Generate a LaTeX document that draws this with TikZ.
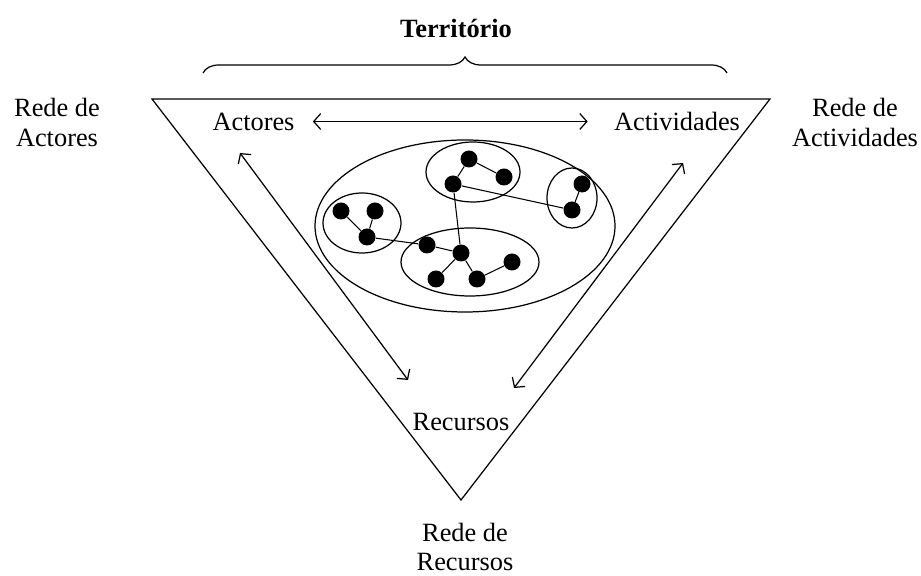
\documentclass[tikz,border=0pt]{standalone}
\usepackage{fontspec}
\setmainfont{Liberation Serif}
\usepackage{tikz}
\usetikzlibrary{arrows.meta, decorations.pathreplacing, shapes.geometric}
\tikzstyle{dot} = [circle, fill=black, inner sep=0pt, minimum size=0.34cm]
\tikzstyle{group} = [ellipse, draw, line width=0.7pt]
\tikzstyle{txt} = [align=center, inner sep=0pt]
\tikzstyle{line} = [draw, line width=0.7pt, {Straight Barb[length=4pt,width=9pt]}-{Straight Barb[length=4pt,width=9pt]}]
\tikzstyle{link} = [draw, line width=0.6pt]

\begin{document}
\begin{tikzpicture}[node distance = 2cm, font=\fontsize{15}{17}\selectfont]
    \useasboundingbox (0,0) rectangle (18.42,11.52);
    % Triangle and brace
    \coordinate (tl) at (3.04,9.54);
    \coordinate (tr) at (15.40,9.54);
    \coordinate (bot) at (9.22,1.52);
    \draw[line width=0.7pt] (tl) -- (tr) -- (bot) -- cycle;
    \coordinate (bracel) at (4.06,10.06);
    \coordinate (bracer) at (14.54,10.06);
    \draw[line width=0.7pt, decorate, decoration={brace, amplitude=0.32cm}] (bracel) -- (bracer);
    \node [font=\fontsize{15}{17}\selectfont\bfseries] (territorio) at (9.12,10.96) {Território};
    % Nodes
    \node [txt] (actores) at (5.07,9.09) {Actores};
    \node [txt, right of=actores, node distance=8.47cm] (actividades) {Actividades};
    \node [txt] (recursos) at (9.22,3.07) {Recursos};
    \node [txt] (redeact) at (1.14,9.07) {Rede de\\Actores};
    \node [txt] (redeactiv) at (17.1,9.07) {Rede de\\Actividades};
    \node [txt] (rederec) at (9.3,0.58) {Rede de\\Recursos};
    % Edges
    \path[line] ([xshift=0.36cm]actores.east) -- ([xshift=-0.52cm]actividades.west);
    \coordinate (al1) at (4.8,8.46);
    \coordinate (al2) at (8.16,3.92);
    \coordinate (ar1) at (13.66,8.26);
    \coordinate (ar2) at (10.28,3.76);
    \path[line] (al1) -- (al2);
    \path[line] (ar1) -- (ar2);
    % Groups
    \node [group, minimum width=6.0cm, minimum height=3.44cm] (territ) at (9.3,7.0) {};
    \node [group, minimum width=1.88cm, minimum height=1.2cm] (gtop) at (9.46,8.08) {};
    \node [group, minimum width=1.0cm, minimum height=1.2cm] (gright) at (11.44,7.56) {};
    \node [group, minimum width=1.56cm, minimum height=1.2cm] (gleft) at (7.24,7.06) {};
    \node [group, minimum width=2.76cm, minimum height=1.36cm] (gbot) at (9.4,6.28) {};
    % Dots
    \node [dot] (t1) at (9.38,8.34) {};
    \node [dot] (t2) at (10.08,7.98) {};
    \node [dot] (t3) at (9.06,7.84) {};
    \node [dot] (r1) at (11.64,7.84) {};
    \node [dot] (r2) at (11.44,7.32) {};
    \node [dot] (l1) at (6.82,7.30) {};
    \node [dot] (l2) at (7.50,7.30) {};
    \node [dot] (l3) at (7.34,6.78) {};
    \node [dot] (b1) at (8.54,6.62) {};
    \node [dot] (b2) at (9.22,6.46) {};
    \node [dot] (b3) at (8.72,5.94) {};
    \node [dot] (b4) at (9.54,5.94) {};
    \node [dot] (b5) at (10.24,6.28) {};
    \path[link] (t1) -- (t3);
    \path[link] (t1) -- (t2);
    \path[link] (t3) -- (r2);
    \path[link] (r1) -- (r2);
    \path[link] (t3) -- (b2);
    \path[link] (l1) -- (l3);
    \path[link] (l2) -- (l3);
    \path[link] (l3) -- (b1);
    \path[link] (b1) -- (b2);
    \path[link] (b2) -- (b3);
    \path[link] (b2) -- (b4);
    \path[link] (b4) -- (b5);
\end{tikzpicture}
\end{document}
